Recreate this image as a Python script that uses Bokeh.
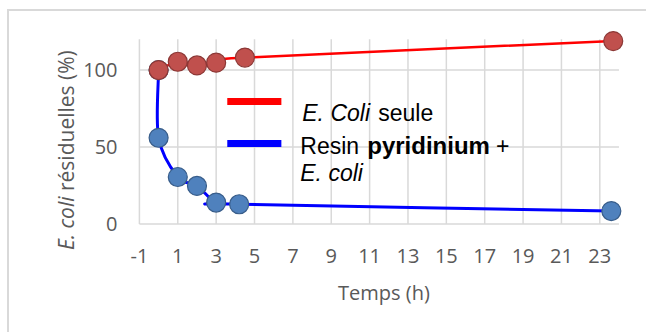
import math
from bokeh.plotting import figure
from bokeh.layouts import row
from bokeh.models import Range1d, FixedTicker, Label, ColumnDataSource, Div
from bokeh.embed import file_html
from bokeh.resources import INLINE

# ---------------- data ----------------
hours_ecoli = [0, 1, 2, 3, 4.5, 23.7]
pct_ecoli = [100, 105.4, 103.0, 104.8, 108.1, 118.8]

hours_resin = [0, 0, 1, 2, 3, 4.2, 23.6]
pct_resin = [100, 56.0, 30.5, 24.7, 13.9, 12.8, 8.4]

x_ticks = [-1, 1, 3, 5, 7, 9, 11, 13, 15, 17, 19, 21, 23]
x_tick_labels = ["-1", "1", "3", "5", "7", "9", "11", "13", "15", "17", "19", "21", "23"]
y_ticks = [0, 50, 100]
y_tick_labels = ["0", "50", "100"]
x_min, x_max = -1, 24
y_min, y_max = 0, 120

x_title = "Temps (h)"
y_title_italic = "E. coli"
y_title_rest = " résiduelles (%)"

legend_ecoli_italic = "E. Coli"
legend_ecoli_rest = "seule"
legend_resin_a = "Resin"
legend_resin_b = "pyridinium"
legend_resin_c = "+"
legend_resin_d = "E. coli"


def smooth(xs, ys):
    """Excel-like smoothed segments (Catmull-Rom -> cubic Bezier)."""
    n = len(xs)
    out = {k: [] for k in ("x0", "y0", "x1", "y1", "cx0", "cy0", "cx1", "cy1")}
    for i in range(n - 1):
        i0 = max(i - 1, 0)
        i3 = min(i + 2, n - 1)
        out["x0"].append(xs[i]); out["y0"].append(ys[i])
        out["x1"].append(xs[i + 1]); out["y1"].append(ys[i + 1])
        out["cx0"].append(xs[i] + (xs[i + 1] - xs[i0]) / 6.0)
        out["cy0"].append(ys[i] + (ys[i + 1] - ys[i0]) / 6.0)
        out["cx1"].append(xs[i + 1] - (xs[i3] - xs[i]) / 6.0)
        out["cy1"].append(ys[i + 1] - (ys[i3] - ys[i]) / 6.0)
    return ColumnDataSource(out)


GRID = "#d9d9d9"
TICK_COLOR = "#595959"
TICK_FONT = "Open Sans"

# ---------------- y-axis title (rotated, mixed italic / normal) ----------------
TW, TH = 71, 321
title_html = (
    '<div style="box-sizing:border-box; width:%dpx; height:%dpx; padding-top:82px; '
    'padding-right:43px; writing-mode:vertical-rl; transform:rotate(180deg); '
    "font-family:'Open Sans'; font-size:21px; line-height:28px; color:%s; "
    'white-space:nowrap; overflow:visible;">'
    '<i>%s</i>%s</div>' % (TW, TH, TICK_COLOR, y_title_italic, y_title_rest)
)
ytitle = Div(text=title_html, width=TW, height=TH, margin=0)

# ---------------- main plot ----------------
p = figure(width=566, height=TH, output_backend="svg", toolbar_location=None,
           x_range=Range1d(-1.1, 24.6), y_range=Range1d(-1, 127),
           min_border_left=56, min_border_right=16, min_border_top=17, min_border_bottom=107)
p.outline_line_color = None
p.grid.visible = False

for ax in (p.xaxis[0], p.yaxis[0]):
    ax.axis_line_color = None
    ax.major_tick_line_color = None
    ax.minor_tick_line_color = None
    ax.major_tick_out = 0
    ax.major_tick_in = 0
    ax.minor_tick_out = 0
    ax.minor_tick_in = 0
    ax.major_label_text_font = TICK_FONT
    ax.major_label_text_font_size = "20px"
    ax.major_label_text_color = TICK_COLOR

p.xaxis[0].ticker = FixedTicker(ticks=x_ticks)
p.xaxis[0].major_label_overrides = dict(zip(x_ticks, x_tick_labels))
p.yaxis[0].ticker = FixedTicker(ticks=y_ticks)
p.yaxis[0].major_label_overrides = dict(zip(y_ticks, y_tick_labels))
p.xaxis[0].major_label_standoff = 23
p.yaxis[0].major_label_standoff = 20

p.xaxis[0].axis_label = x_title
p.xaxis[0].axis_label_text_font = TICK_FONT
p.xaxis[0].axis_label_text_font_size = "20px"
p.xaxis[0].axis_label_text_font_style = "normal"
p.xaxis[0].axis_label_text_color = TICK_COLOR
p.xaxis[0].axis_label_standoff = 13

# grid lines (plot area: x -1..24, y 0..120)
p.segment(x0=x_ticks, y0=[y_min] * len(x_ticks), x1=x_ticks, y1=[y_max] * len(x_ticks),
          line_color=GRID, line_width=1.5)
p.segment(x0=[x_min] * len(y_ticks), y0=y_ticks, x1=[x_max] * len(y_ticks), y1=y_ticks,
          line_color=GRID, line_width=1.5)

# lines (smoothed)
p.bezier(x0="x0", y0="y0", x1="x1", y1="y1", cx0="cx0", cy0="cy0", cx1="cx1", cy1="cy1",
         source=smooth(hours_resin, pct_resin), line_color="#0000FF", line_width=3)
p.bezier(x0="x0", y0="y0", x1="x1", y1="y1", cx0="cx0", cy0="cy0", cx1="cx1", cy1="cy1",
         source=smooth(hours_ecoli, pct_ecoli), line_color="#FF0000", line_width=2.5)

# markers
p.scatter(hours_resin, pct_resin, size=19, fill_color="#4F81BD", line_color="#385D8A", line_width=1.2)
p.scatter(hours_ecoli, pct_ecoli, size=19, fill_color="#C0504D", line_color="#8C3836", line_width=1.2)

# legend (manual, for mixed styles)
p.segment(x0=[3.58], y0=[79.6], x1=[6.40], y1=[79.6], line_color="#FF0000", line_width=7)
p.segment(x0=[3.58], y0=[52.3], x1=[6.40], y1=[52.3], line_color="#0000FF", line_width=7)

LEG_FONT = "Liberation Sans"


def leg(x, y, text, style="normal", size="23px"):
    p.add_layout(Label(x=x, y=y, text=text, text_font=LEG_FONT, text_font_size=size,
                       text_font_style=style, text_color="black",
                       text_align="left", text_baseline="alphabetic"))


leg(7.49, 72.0, legend_ecoli_italic, "italic")
leg(11.45, 72.0, legend_ecoli_rest)
leg(7.385, 50.8, legend_resin_a)
leg(10.875, 50.8, legend_resin_b, "bold", "24px")
leg(17.59, 50.8, legend_resin_c)
leg(7.385, 32.8, legend_resin_d, "italic")

layout = row(ytitle, p)
layout.styles = {"margin-left": "7px", "margin-top": "9px",
                 "border-top": "2px solid #d9d9d9", "border-left": "2px solid #d9d9d9"}

open("out.html", "w").write(file_html(layout, INLINE))
